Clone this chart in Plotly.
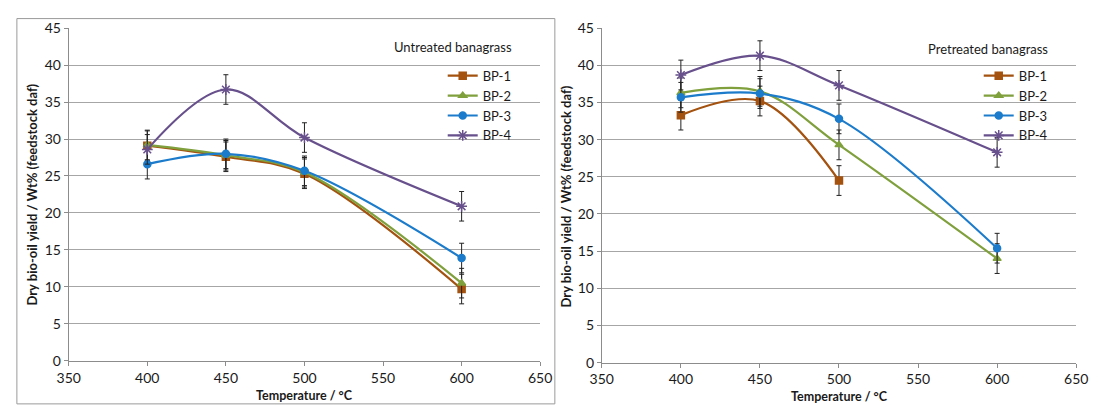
import plotly.graph_objects as go

temps = [400, 450, 500, 600]
series_names = ["BP-1", "BP-2", "BP-3", "BP-4"]

# Untreated banagrass
untreated_bp1 = [29.1, 27.6, 25.3, 9.7]
untreated_bp2 = [29.2, 27.8, 25.5, 10.5]
untreated_bp3 = [26.6, 28.0, 25.7, 13.9]
untreated_bp4 = [28.6, 36.7, 30.2, 20.9]
untreated_err = [2.0, 2.0, 2.0, 2.0]

# Pretreated banagrass
pre_temps_bp1 = [400, 450, 500]
pretreated_bp1 = [33.3, 35.2, 24.5]
pretreated_bp2 = [36.3, 36.5, 29.3, 14.0]
pretreated_bp3 = [35.7, 36.2, 32.8, 15.4]
pretreated_bp4 = [38.7, 41.3, 37.3, 28.3]
pretreated_err = [2.0, 2.0, 2.0, 2.0]

x_ticks = [350, 400, 450, 500, 550, 600, 650]
y_ticks = [0, 5, 10, 15, 20, 25, 30, 35, 40, 45]

colors = ["#A4520F", "#7FA03C", "#1C7CCB", "#67508C"]
symbols = ["square", "triangle-up", "circle", "asterisk-open"]
sizes = [7, 7, 7, 9]

FONT = "Lato, Open Sans, sans-serif"
W, H = 1097, 409

fig = go.Figure()

left = [untreated_bp1, untreated_bp2, untreated_bp3, untreated_bp4]
right = [pretreated_bp1, pretreated_bp2, pretreated_bp3, pretreated_bp4]

for i, name in enumerate(series_names):
    ys = left[i]
    fig.add_trace(go.Scatter(
        x=temps, y=ys, name=name, mode="lines+markers",
        line=dict(color=colors[i], width=2.2, shape="spline", smoothing=1.0),
        marker=dict(symbol=symbols[i], size=sizes[i], color=colors[i],
                    line=dict(color=colors[i], width=1.5)),
        error_y=dict(type="data", array=untreated_err[:len(ys)], color="#222",
                     thickness=1, width=2.5),
        xaxis="x", yaxis="y", legend="legend"))

for i, name in enumerate(series_names):
    ys = right[i]
    xs = pre_temps_bp1 if i == 0 else temps
    fig.add_trace(go.Scatter(
        x=xs, y=ys, name=name, mode="lines+markers",
        line=dict(color=colors[i], width=2.2, shape="spline", smoothing=1.0),
        marker=dict(symbol=symbols[i], size=sizes[i], color=colors[i],
                    line=dict(color=colors[i], width=1.5)),
        error_y=dict(type="data", array=pretreated_err[:len(ys)], color="#222",
                     thickness=1, width=2.5),
        xaxis="x2", yaxis="y2", legend="legend2"))

def px(v):
    return v / W

def py(v):
    return 1 - v / H

axis_common = dict(
    showline=True, linecolor="#8c8c8c", linewidth=1,
    ticks="outside", ticklen=4, tickcolor="#8c8c8c",
    tickfont=dict(family=FONT, size=14, color="#1a1a1a"),
    zeroline=False,
)

fig.update_layout(
    width=W, height=H,
    margin=dict(l=0, r=0, t=0, b=0),
    paper_bgcolor="white", plot_bgcolor="white",
    font=dict(family=FONT, color="#1a1a1a"),
    xaxis=dict(domain=[px(58), px(540)], range=[350, 650], tickvals=x_ticks,
               showgrid=False, anchor="y", **axis_common),
    yaxis=dict(domain=[py(367), py(20)], range=[0, 45], tickvals=y_ticks,
               showgrid=True, gridcolor="#a6a6a6", gridwidth=1, anchor="x",
               **axis_common),
    xaxis2=dict(domain=[px(603), px(1088)], range=[350, 650], tickvals=x_ticks,
                showgrid=False, anchor="y2", **axis_common),
    yaxis2=dict(domain=[py(369), py(20)], range=[0, 45], tickvals=y_ticks,
                showgrid=True, gridcolor="#a6a6a6", gridwidth=1, anchor="x2",
                **axis_common),
    legend=dict(x=px(516), y=py(54), xanchor="right", yanchor="top",
                bgcolor="rgba(0,0,0,0)", font=dict(family=FONT, size=13),
                tracegroupgap=0, itemwidth=30),
    legend2=dict(x=px(1064), y=py(54), xanchor="right", yanchor="top",
                 bgcolor="rgba(0,0,0,0)", font=dict(family=FONT, size=13),
                 tracegroupgap=0, itemwidth=30),
    showlegend=True,
)

annotations = [
    dict(text="Untreated banagrass", x=px(513), y=py(40), xref="paper", yref="paper",
         xanchor="right", yanchor="middle", showarrow=False,
         font=dict(family=FONT, size=13, color="#1a1a1a")),
    dict(text="Pretreated banagrass", x=px(1061), y=py(42), xref="paper", yref="paper",
         xanchor="right", yanchor="middle", showarrow=False,
         font=dict(family=FONT, size=13, color="#1a1a1a")),
    dict(text="<b>Dry bio-oil yield / Wt% (feedstock daf)</b>", x=px(20), y=py(194),
         xref="paper", yref="paper", textangle=-90, showarrow=False,
         xanchor="center", yanchor="middle", font=dict(family=FONT, size=13, color="#1a1a1a")),
    dict(text="<b>Dry bio-oil yield / Wt% (feedstock daf)</b>", x=px(566), y=py(196),
         xref="paper", yref="paper", textangle=-90, showarrow=False,
         xanchor="center", yanchor="middle", font=dict(family=FONT, size=13, color="#1a1a1a")),
    dict(text="<b>Temperature / °C</b>", x=px(299), y=py(403), xref="paper", yref="paper",
         showarrow=False, xanchor="center", yanchor="middle",
         font=dict(family=FONT, size=12.5, color="#1a1a1a")),
    dict(text="<b>Temperature / °C</b>", x=px(846), y=py(404), xref="paper", yref="paper",
         showarrow=False, xanchor="center", yanchor="middle",
         font=dict(family=FONT, size=12.5, color="#1a1a1a")),
]
fig.update_layout(annotations=annotations)

# panel border of the left chart
fig.add_shape(type="rect", xref="paper", yref="paper",
              x0=px(5), x1=px(555), y0=py(412), y1=py(10),
              line=dict(color="#9a9a9a", width=1), fillcolor="rgba(0,0,0,0)")

fig.write_html("out.html")
